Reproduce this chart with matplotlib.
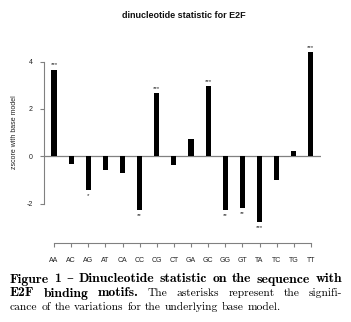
import numpy as np
import matplotlib.pyplot as plt

dinucs = ['AA', 'AC', 'AG', 'AT', 'CA', 'CC', 'CG', 'CT',
          'GA', 'GC', 'GG', 'GT', 'TA', 'TC', 'TG', 'TT']
zscore = [3.65, -0.34, -1.42, -0.59, -0.69, -2.27, 2.67, -0.38,
          0.72, 2.97, -2.27, -2.17, -2.77, -0.99, 0.21, 4.39]
stars = ['***', '', '*', '', '', '**', '***', '',
         '', '***', '**', '**', '***', '', '', '***']

W, H = 351, 322
fig = plt.figure(figsize=(W / 100, H / 100), dpi=100)

# axes box in pixels (left, bottom, right, top from figure top)
l, r, t, b = 44, 321, 45, 243
ax = fig.add_axes([l / W, 1 - b / H, (r - l) / W, (b - t) / H])

x = np.arange(len(dinucs))
ax.bar(x, zscore, width=0.3, color='black', zorder=3)
ax.axhline(0, color='#808080', lw=0.9, zorder=2)

for xi, v, s in zip(x, zscore, stars):
    if not s:
        continue
    if v > 0:
        ax.text(xi, v + 0.1, s, ha='center', va='bottom', fontsize=4.5,
                family='Liberation Sans', color='#222222')
    else:
        ax.text(xi, v - 0.12, s, ha='center', va='top', fontsize=4.5,
                family='Liberation Sans', color='#222222')

ax.set_xlim(-0.584, 15.59)
ax.set_ylim(-3.66, 4.70)

for sp in ['top', 'right']:
    ax.spines[sp].set_visible(False)
ax.spines['left'].set_bounds(-2, 4)
ax.spines['bottom'].set_bounds(0, 15)
for sp in ['left', 'bottom']:
    ax.spines[sp].set_color('#808080')
    ax.spines[sp].set_linewidth(0.8)

ax.set_xticks(x)
ax.set_xticklabels(dinucs)
ax.set_yticks([-2, 0, 2, 4])
ax.set_yticklabels(['-2', '0', '2', '4'])
ax.tick_params(axis='both', colors='#808080', labelcolor='#222222',
               length=3, width=0.8, labelsize=5)
ax.tick_params(axis='x', pad=7)
ax.tick_params(axis='y', pad=5)
for lab in ax.get_xticklabels() + ax.get_yticklabels():
    lab.set_family('Liberation Sans')

fig.text(15 / W, 1 - 132 / H, 'zscore with base model', rotation=90,
         ha='center', va='center', fontsize=5, family='Liberation Sans',
         color='#222222')
fig.text(183.5 / W, 1 - 15 / H, 'dinucleotide statistic for E2F',
         ha='center', va='center', fontsize=6.5, weight='bold',
         family='Liberation Sans', color='#111111')

# caption, justified like the LaTeX source
renderer = fig.canvas.get_renderer()
reg = ['cmr10', 'DejaVu Serif']
bold = ['cmb10', 'DejaVu Serif']


def word_widths(words, fs_r, fs_b):
    objs = [fig.text(0, 0, w, family=fam, fontsize=fs_b if fam is bold else fs_r)
            for w, fam in words]
    ws = [o.get_window_extent(renderer).width for o in objs]
    for o in objs:
        o.remove()
    return ws


line1 = [('Figure', bold), ('1', bold), ('\u2013', bold), ('Dinucleotide', bold),
         ('statistic', bold), ('on', bold), ('the', bold), ('sequence', bold),
         ('with', bold)]
line2 = [('E2F', bold), ('binding', bold), ('motifs.', bold), ('The', reg),
         ('asterisks', reg), ('represent', reg), ('the', reg),
         ('signifi-', reg)]
line3 = [('cance', reg), ('of', reg), ('the', reg), ('variations', reg),
         ('for', reg), ('the', reg), ('underlying', reg), ('base', reg),
         ('model.', reg)]

# regular size so that line 3 spans ~272 px, bold so line 1 has ~5.5 px gaps
ws = word_widths(line3, 8.0, 8.0)
fs_r = 8.0 * (272 - 8 * 3.8) / sum(ws)
wb = word_widths(line1, fs_r, 8.0)
fs_b = 8.0 * (332 - 8 * 5.5) / sum(wb)

x0, x1 = 10, 342
for words, justify, ypix in [(line1, True, 279), (line2, True, 293),
                             (line3, False, 307)]:
    objs = [fig.text(0, 1 - ypix / H, w, family=fam,
                     fontsize=fs_b if fam is bold else fs_r,
                     va='baseline', ha='left', color='black')
            for w, fam in words]
    widths = [o.get_window_extent(renderer).width for o in objs]
    if justify:
        gap = (x1 - x0 - sum(widths)) / (len(objs) - 1)
    else:
        gap = 3.8
    pos = x0
    for o, w in zip(objs, widths):
        o.set_x(pos / W)
        o.set_y(1 - (ypix + 3.5) / H)
        pos += w + gap

fig.savefig('out.png', dpi=100)
